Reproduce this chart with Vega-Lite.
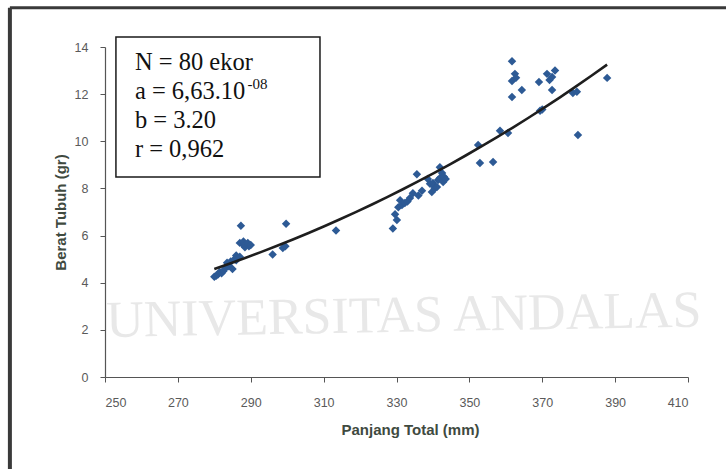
{
  "$schema": "https://vega.github.io/schema/vega-lite/v6.json",
  "width": 583,
  "height": 330,
  "autosize": "none",
  "padding": {"left": 105, "top": 47, "right": 38, "bottom": 92},
  "background": "white",
  "config": {
    "view": {"stroke": null},
    "axis": {
      "grid": false,
      "domainColor": "#555555",
      "tickColor": "#555555",
      "labelColor": "#5a5a5a",
      "labelFont": "Liberation Sans",
      "labelFontSize": 12.5,
      "titleFont": "Liberation Sans",
      "titleFontSize": 15,
      "titleFontWeight": "bold",
      "titleColor": "#3f4a3f",
      "tickSize": 5,
      "domainWidth": 1.2
    }
  },
  "datasets": {
    "one": [{}],
    "fish": [
      {"pt": 280.0, "bb": 4.25}, {"pt": 280.5, "bb": 4.3}, {"pt": 281.0, "bb": 4.35}, {"pt": 281.5, "bb": 4.45},
      {"pt": 282.0, "bb": 4.4}, {"pt": 282.5, "bb": 4.5}, {"pt": 283.0, "bb": 4.6}, {"pt": 283.5, "bb": 4.85},
      {"pt": 284.0, "bb": 4.7}, {"pt": 284.0, "bb": 4.8}, {"pt": 284.5, "bb": 4.9}, {"pt": 285.0, "bb": 4.58},
      {"pt": 285.5, "bb": 5.0}, {"pt": 286.0, "bb": 4.95}, {"pt": 286.0, "bb": 5.15}, {"pt": 286.5, "bb": 5.05},
      {"pt": 287.0, "bb": 5.1}, {"pt": 287.3, "bb": 6.42}, {"pt": 287.0, "bb": 5.69}, {"pt": 288.0, "bb": 5.6},
      {"pt": 288.0, "bb": 5.75}, {"pt": 288.4, "bb": 5.5}, {"pt": 289.2, "bb": 5.69}, {"pt": 289.5, "bb": 5.55},
      {"pt": 290.0, "bb": 5.6}, {"pt": 296.0, "bb": 5.2}, {"pt": 298.8, "bb": 5.47}, {"pt": 299.5, "bb": 5.55},
      {"pt": 299.7, "bb": 6.5}, {"pt": 313.4, "bb": 6.22},
      {"pt": 329.0, "bb": 6.3}, {"pt": 329.6, "bb": 6.9}, {"pt": 330.1, "bb": 6.66}, {"pt": 330.5, "bb": 7.2},
      {"pt": 331.0, "bb": 7.5}, {"pt": 331.5, "bb": 7.3}, {"pt": 332.3, "bb": 7.38}, {"pt": 333.0, "bb": 7.45},
      {"pt": 333.7, "bb": 7.59}, {"pt": 334.5, "bb": 7.8}, {"pt": 335.6, "bb": 8.6}, {"pt": 336.0, "bb": 7.7},
      {"pt": 337.0, "bb": 7.9}, {"pt": 338.6, "bb": 8.4}, {"pt": 339.2, "bb": 8.2}, {"pt": 339.7, "bb": 7.85},
      {"pt": 340.0, "bb": 8.23}, {"pt": 340.2, "bb": 8.1}, {"pt": 340.5, "bb": 8.0}, {"pt": 341.1, "bb": 8.06},
      {"pt": 341.4, "bb": 8.36}, {"pt": 341.9, "bb": 8.9}, {"pt": 342.0, "bb": 8.45}, {"pt": 342.5, "bb": 8.65},
      {"pt": 342.8, "bb": 8.27}, {"pt": 343.0, "bb": 8.5}, {"pt": 343.5, "bb": 8.4},
      {"pt": 352.4, "bb": 9.84}, {"pt": 352.9, "bb": 9.08}, {"pt": 356.5, "bb": 9.12}, {"pt": 358.4, "bb": 10.45},
      {"pt": 360.6, "bb": 10.35}, {"pt": 361.7, "bb": 13.4}, {"pt": 362.5, "bb": 12.86}, {"pt": 361.7, "bb": 12.56},
      {"pt": 362.8, "bb": 12.7}, {"pt": 361.7, "bb": 11.88}, {"pt": 364.4, "bb": 12.18}, {"pt": 369.1, "bb": 12.52},
      {"pt": 369.4, "bb": 11.3}, {"pt": 370.0, "bb": 11.35}, {"pt": 371.3, "bb": 12.86}, {"pt": 372.0, "bb": 12.6},
      {"pt": 372.7, "bb": 12.73}, {"pt": 373.5, "bb": 13.0}, {"pt": 372.7, "bb": 12.18}, {"pt": 378.4, "bb": 12.05},
      {"pt": 379.5, "bb": 12.1}, {"pt": 379.8, "bb": 10.27}, {"pt": 387.8, "bb": 12.69}
    ]
  },
  "layer": [
    {
      "data": {"name": "one"},
      "mark": {"type": "rule", "color": "#3a3a3a", "strokeWidth": 3},
      "encoding": {
        "x": {"datum": 223.9, "type": "quantitative", "scale": {"domain": [250, 410], "nice": false}},
        "x2": {"datum": 421},
        "y": {"datum": 15.66, "type": "quantitative", "scale": {"domain": [0, 14], "nice": false}}
      }
    },
    {
      "data": {"name": "one"},
      "mark": {"type": "rule", "color": "#3a3a3a", "strokeWidth": 4},
      "encoding": {
        "x": {"datum": 223.9, "type": "quantitative"},
        "y": {"datum": 15.66, "type": "quantitative"},
        "y2": {"datum": -3.9}
      }
    },
    {
      "data": {"name": "one"},
      "mark": {"type": "text", "text": "UNIVERSITAS ANDALAS", "font": "Liberation Serif", "fontSize": 52, "color": "#e8e8e8", "align": "center", "baseline": "middle", "angle": -1},
      "encoding": {
        "x": {"datum": 332, "type": "quantitative"},
        "y": {"datum": 2.6, "type": "quantitative"}
      }
    },
    {
      "data": {"name": "one"},
      "mark": {"type": "rect", "fill": "white", "stroke": "#1a1a1a", "strokeWidth": 1.5},
      "encoding": {
        "x": {"datum": 253.0, "type": "quantitative"},
        "x2": {"datum": 309.0},
        "y": {"datum": 14.42, "type": "quantitative"},
        "y2": {"datum": 8.49}
      }
    },
    {
      "data": {"name": "one"},
      "mark": {"type": "text", "text": "N = 80 ekor", "font": "Liberation Serif", "fontSize": 24.5, "color": "#111111", "align": "left", "baseline": "alphabetic"},
      "encoding": {"x": {"datum": 258.2, "type": "quantitative"}, "y": {"datum": 13.02, "type": "quantitative"}}
    },
    {
      "data": {"name": "one"},
      "mark": {"type": "text", "text": "a = 6,63.10", "font": "Liberation Serif", "fontSize": 24.5, "color": "#111111", "align": "left", "baseline": "alphabetic"},
      "encoding": {"x": {"datum": 258.2, "type": "quantitative"}, "y": {"datum": 11.79, "type": "quantitative"}}
    },
    {
      "data": {"name": "one"},
      "mark": {"type": "text", "text": "-08", "font": "Liberation Serif", "fontSize": 15, "color": "#111111", "align": "left", "baseline": "alphabetic"},
      "encoding": {"x": {"datum": 289.1, "type": "quantitative"}, "y": {"datum": 12.22, "type": "quantitative"}}
    },
    {
      "data": {"name": "one"},
      "mark": {"type": "text", "text": "b = 3.20", "font": "Liberation Serif", "fontSize": 24.5, "color": "#111111", "align": "left", "baseline": "alphabetic"},
      "encoding": {"x": {"datum": 258.2, "type": "quantitative"}, "y": {"datum": 10.56, "type": "quantitative"}}
    },
    {
      "data": {"name": "one"},
      "mark": {"type": "text", "text": "r = 0,962", "font": "Liberation Serif", "fontSize": 24.5, "color": "#111111", "align": "left", "baseline": "alphabetic"},
      "encoding": {"x": {"datum": 258.2, "type": "quantitative"}, "y": {"datum": 9.33, "type": "quantitative"}}
    },
    {
      "data": {"name": "fish"},
      "mark": {"type": "point", "shape": "diamond", "filled": true, "color": "#2d5a95", "size": 72, "opacity": 1},
      "encoding": {
        "x": {
          "field": "pt", "type": "quantitative", "title": "Panjang Total (mm)",
          "axis": {"values": [250, 270, 290, 310, 330, 350, 370, 390, 410], "labelPadding": 14, "titlePadding": 14, "titleX": 305}
        },
        "y": {
          "field": "bb", "type": "quantitative", "title": "Berat Tubuh (gr)",
          "axis": {"values": [0, 2, 4, 6, 8, 10, 12, 14], "labelPadding": 12, "titlePadding": 6}
        }
      }
    },
    {
      "data": {"name": "fish"},
      "transform": [{"regression": "bb", "on": "pt", "method": "pow"}],
      "mark": {"type": "line", "color": "#1e1e1e", "strokeWidth": 2.6},
      "encoding": {
        "x": {"field": "pt", "type": "quantitative"},
        "y": {"field": "bb", "type": "quantitative"}
      }
    }
  ]
}
